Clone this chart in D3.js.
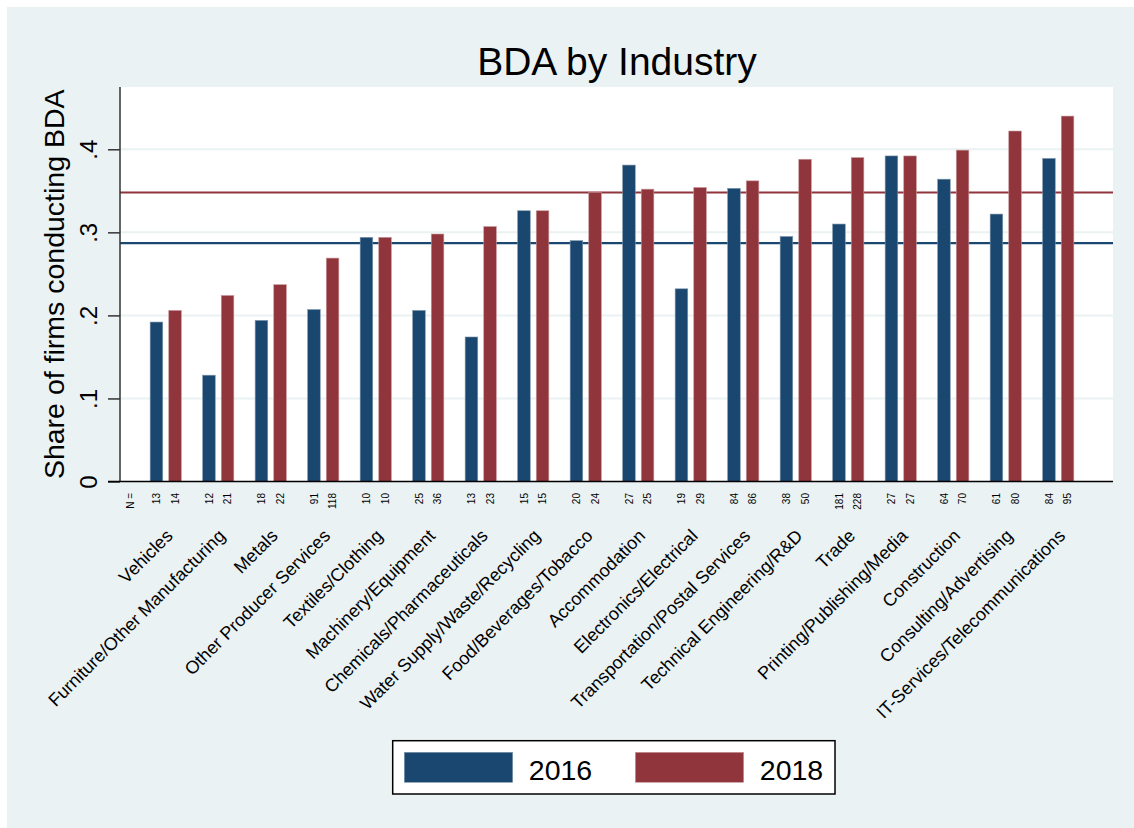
<!DOCTYPE html>
<html>
<head>
<meta charset="utf-8">
<script src="https://cdn.jsdelivr.net/npm/d3@7"></script>
<style>
  body { margin: 0; background: #ffffff; }
  svg { display: block; font-family: "Liberation Sans", Arial, sans-serif; }
</style>
</head>
<body>
<div id="chart"></div>
<script>
// Data
const industries = [
    "Vehicles", "Furniture/Other Manufacturing", "Metals", "Other Producer Services",
    "Textiles/Clothing", "Machinery/Equipment", "Chemicals/Pharmaceuticals",
    "Water Supply/Waste/Recycling", "Food/Beverages/Tobacco", "Accommodation",
    "Electronics/Electrical", "Transportation/Postal Services",
    "Technical Engineering/R&D", "Trade", "Printing/Publishing/Media",
    "Construction", "Consulting/Advertising", "IT-Services/Telecommunications"
];
const years = ["2016", "2018"];
const share2016 = [0.192, 0.128, 0.194, 0.207, 0.294, 0.206, 0.174, 0.326, 0.290,
    0.381, 0.232, 0.353, 0.295, 0.310, 0.392, 0.364, 0.322, 0.389];
const share2018 = [0.206, 0.224, 0.237, 0.269, 0.294, 0.298, 0.307, 0.326, 0.348,
    0.352, 0.354, 0.362, 0.388, 0.390, 0.392, 0.399, 0.422, 0.440];
const n2016 = [13, 12, 18, 91, 10, 25, 13, 15, 20, 27, 19, 84, 38, 181, 27, 64, 61, 84];
const n2018 = [14, 21, 22, 118, 10, 36, 23, 15, 24, 25, 29, 86, 50, 228, 27, 70, 80, 95];
const meanShare = [0.287, 0.348];   // overall share, 2016 and 2018
const yTicks = [0, 0.1, 0.2, 0.3, 0.4];

const colors = {"2016": "#1a476f", "2018": "#90353b"};
const edge = {"2016": "#7f97ad", "2018": "#c99a9d"};
const bg = "#eaf2f3";

// Dimensions
const width = 1134, height = 828;
const plot = {left: 120, right: 1113, top: 87, bottom: 481.5};

// Scales
const yScale = d3.scaleLinear()
    .domain([0, 0.475])
    .range([plot.bottom, plot.top]);

const xScale = d3.scaleBand()
    .domain(industries)
    .range([139.5, 1084.5]);

const xSub = d3.scaleBand()
    .domain(years)
    .range([-15.6, 15.6])
    .paddingInner(0.3226);

const svg = d3.select("#chart")
    .append("svg")
        .attr("width", width)
        .attr("height", height);

// Graph region
svg.append("rect")
    .attr("x", 7).attr("y", 7)
    .attr("width", width - 7).attr("height", height - 7)
    .attr("fill", bg);

// Plot region
svg.append("rect")
    .attr("x", plot.left).attr("y", plot.top)
    .attr("width", plot.right - plot.left)
    .attr("height", plot.bottom - plot.top)
    .attr("fill", "#ffffff");

// Grid lines
svg.append("g")
    .selectAll("line")
    .data(yTicks.filter(d => d > 0))
    .join("line")
        .attr("x1", plot.left)
        .attr("x2", plot.right)
        .attr("y1", d => yScale(d))
        .attr("y2", d => yScale(d))
        .attr("stroke", bg)
        .attr("stroke-width", 2);

// Reference lines (overall mean per year)
svg.append("g")
    .selectAll("line")
    .data(meanShare)
    .join("line")
        .attr("x1", plot.left)
        .attr("x2", plot.right)
        .attr("y1", d => yScale(d))
        .attr("y2", d => yScale(d))
        .attr("stroke", (d, i) => colors[years[i]])
        .attr("stroke-width", 2.2);

// Bars
const rows = industries.map((name, i) => ({
    name,
    values: [
        {year: "2016", share: share2016[i], n: n2016[i]},
        {year: "2018", share: share2018[i], n: n2018[i]}
    ]
}));

const groups = svg.append("g")
    .selectAll("g")
    .data(rows)
    .join("g")
        .attr("transform", d => `translate(${xScale(d.name) + xScale.bandwidth() / 2},0)`);

groups.selectAll("rect")
    .data(d => d.values)
    .join("rect")
        .attr("x", d => xSub(d.year))
        .attr("width", xSub.bandwidth())
        .attr("y", d => yScale(d.share))
        .attr("height", d => yScale(0) - yScale(d.share))
        .attr("fill", d => colors[d.year])
        .attr("stroke", d => edge[d.year])
        .attr("stroke-width", 0.6);

// N labels under bars
groups.selectAll("text.n")
    .data(d => d.values)
    .join("text")
        .attr("class", "n")
        .attr("transform", d => `translate(${xSub(d.year) + xSub.bandwidth() / 2 + 3.6},493) rotate(-90)`)
        .attr("text-anchor", "end")
        .attr("font-size", 10)
        .attr("fill", "#000")
        .text(d => d.n);

svg.append("text")
    .attr("transform", "translate(133.5,493) rotate(-90)")
    .attr("text-anchor", "end")
    .attr("font-size", 10)
    .text("N =");

// Category labels
groups.append("text")
    .attr("transform", "translate(8,537) rotate(-45)")
    .attr("text-anchor", "end")
    .attr("font-size", 18)
    .attr("fill", "#000")
    .text(d => d.name);

// Y axis
const yAxis = svg.append("g")
    .attr("transform", `translate(${plot.left},0)`)
    .call(d3.axisLeft(yScale)
        .tickValues(yTicks)
        .tickSize(12)
        .tickFormat(d => d === 0 ? "0" : d3.format(".1f")(d).replace(/^0/, "")));

yAxis.select(".domain")
    .attr("d", `M0,${plot.top}V${plot.bottom}`)
    .attr("stroke", "#333")
    .attr("stroke-width", 1.5);
yAxis.selectAll(".tick line")
    .attr("stroke", "#333")
    .attr("stroke-width", 1.5);
yAxis.selectAll(".tick text")
    .attr("transform", "rotate(-90)")
    .attr("x", 0)
    .attr("y", -23)
    .attr("dy", 0)
    .attr("text-anchor", "middle")
    .attr("font-size", 24)
    .attr("font-family", "Liberation Sans, Arial, sans-serif")
    .attr("fill", "#000");

// X axis line
svg.append("line")
    .attr("x1", plot.left - 12)
    .attr("x2", plot.right)
    .attr("y1", plot.bottom)
    .attr("y2", plot.bottom)
    .attr("stroke", "#000")
    .attr("stroke-width", 1.5);

// Y axis title
svg.append("text")
    .attr("transform", `translate(63.5,${(plot.top + plot.bottom) / 2}) rotate(-90)`)
    .attr("text-anchor", "middle")
    .attr("font-size", 28.5)
    .text("Share of firms conducting BDA");

// Title
svg.append("text")
    .attr("x", 617)
    .attr("y", 75)
    .attr("text-anchor", "middle")
    .attr("font-size", 39)
    .text("BDA by Industry");

// Legend
const legend = svg.append("g");
legend.append("rect")
    .attr("x", 392.7).attr("y", 740.7)
    .attr("width", 442.3).attr("height", 53.3)
    .attr("fill", "#ffffff")
    .attr("stroke", "#000")
    .attr("stroke-width", 1.5);

const legendItems = legend.selectAll("g")
    .data(years)
    .join("g")
        .attr("transform", (d, i) => `translate(${404.3 + i * 231},0)`);

legendItems.append("rect")
    .attr("x", 0).attr("y", 752.3)
    .attr("width", 108.4).attr("height", 30)
    .attr("fill", d => colors[d])
    .attr("stroke", d => edge[d])
    .attr("stroke-width", 0.6);

legendItems.append("text")
    .attr("x", 124.5)
    .attr("y", 779.5)
    .attr("font-size", 28.5)
    .text(d => d);
</script>
</body>
</html>
